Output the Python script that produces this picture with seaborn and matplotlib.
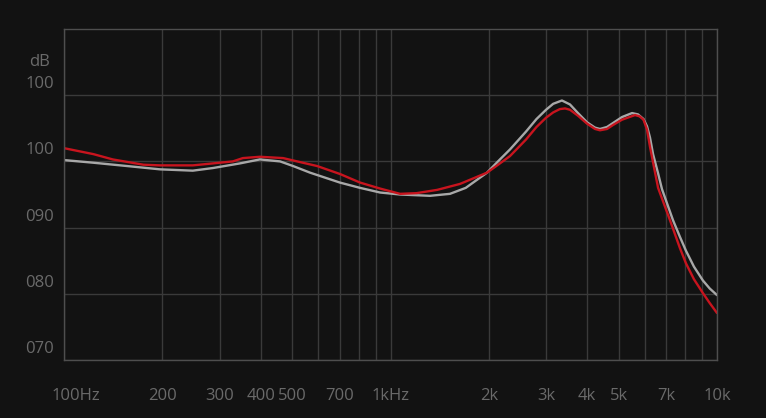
import matplotlib
matplotlib.use("Agg")
import matplotlib.pyplot as plt
from matplotlib.transforms import ScaledTranslation
import seaborn as sns
import pandas as pd

# ---- data ----
gray_freq = [100, 123, 156, 197, 248, 286, 346, 398, 459, 503, 567, 700, 807, 929,
             1070, 1321, 1521, 1700, 1975, 2164, 2322, 2600, 2800, 2995, 3150, 3350, 3546,
             3752, 4000, 4230, 4381, 4604, 4804, 5117, 5493, 5728, 5955, 6105, 6234, 6370,
             6600, 6785, 7335, 7700, 8035, 8500, 9057, 9500, 10000]
gray_db = [100.2, 99.8, 99.3, 98.8, 98.6, 99.0, 99.7, 100.3, 100.0, 99.3, 98.3, 96.8, 96.0, 95.3,
           95.0, 94.8, 95.1, 96.0, 98.3, 100.3, 101.8, 104.5, 106.4, 107.8, 108.7, 109.2, 108.6,
           107.3, 105.9, 105.1, 104.9, 105.2, 105.8, 106.7, 107.3, 107.1, 106.4, 105.3, 103.6, 101.1,
           98.2, 95.8, 91.1, 88.6, 86.5, 84.1, 82.0, 80.8, 79.8]

red_freq = [100, 123, 141, 175, 197, 248, 286, 329, 353, 398, 469, 528, 596, 700, 807, 929,
            1070, 1200, 1390, 1633, 1975, 2164, 2322, 2600, 2800, 2995, 3150, 3300, 3424, 3546,
            3752, 4000, 4230, 4381, 4604, 4804, 5117, 5610, 5800, 5955, 6105, 6234, 6420,
            6600, 7180, 7700, 8035, 8500, 9057, 9500, 10000]
red_db = [102.0, 101.1, 100.3, 99.5, 99.4, 99.4, 99.7, 100.0, 100.5, 100.7, 100.5, 99.9, 99.3, 98.1, 96.8, 95.9,
          95.1, 95.2, 95.7, 96.6, 98.3, 99.7, 100.8, 103.3, 105.2, 106.6, 107.4, 107.9, 108.0, 107.8,
          106.9, 105.7, 104.9, 104.7, 104.9, 105.5, 106.3, 107.0, 106.8, 106.3, 104.8, 102.2, 99.0,
          96.0, 91.1, 86.9, 84.6, 82.2, 80.1, 78.6, 77.1]

x_grid = [100, 200, 300, 400, 500, 600, 700, 800, 900, 1000,
          2000, 3000, 4000, 5000, 6000, 7000, 8000, 9000, 10000]
x_labels = ["100Hz", "200", "300", "400", "500", "", "700", "", "", "1kHz",
            "2k", "3k", "4k", "5k", "", "7k", "", "", "10k"]
y_ticks = [70, 80, 90, 100, 110]
y_labels = ["070", "080", "090", "100", "100"]
y_unit = "dB"

# ---- style ----
BG = "#121212"
GRID = "#3a3a3a"
SPINE = "#4e4e4e"
TEXT = "#6a6a6a"

sns.set_theme(style="dark", rc={
    "figure.facecolor": BG, "axes.facecolor": BG,
    "axes.edgecolor": SPINE, "grid.color": GRID,
})
plt.rcParams["font.family"] = ["Open Sans", "DejaVu Sans"]

fig = plt.figure(figsize=(7.66, 4.18), dpi=100)
ax = fig.add_axes([64 / 766, 1 - 360 / 418, (717 - 64) / 766, (360 - 29) / 418])

df_gray = pd.DataFrame({"freq": gray_freq, "db": gray_db})
df_red = pd.DataFrame({"freq": red_freq, "db": red_db})

sns.lineplot(data=df_gray, x="freq", y="db", ax=ax, color="#a8a8a8", linewidth=1.7, sort=False)
sns.lineplot(data=df_red, x="freq", y="db", ax=ax, color="#c8141e", linewidth=1.7, sort=False)
for ln in ax.lines:
    ln.set_solid_joinstyle("round")
    ln.set_solid_capstyle("round")

ax.set_xscale("log")
ax.set_xlim(100, 10000)
ax.set_ylim(70, 120)
ax.set_xlabel("")
ax.set_ylabel("")

ax.set_xticks(x_grid)
ax.set_xticklabels(x_labels)
ax.xaxis.set_minor_locator(matplotlib.ticker.NullLocator())
ax.set_yticks(y_ticks)
ax.set_yticklabels(y_labels)

ax.grid(True, which="major", color=GRID, linewidth=1.0)
ax.tick_params(axis="both", length=0, colors=TEXT, labelsize=12)
ax.tick_params(axis="x", pad=20)
ax.tick_params(axis="y", pad=7)

for sp in ax.spines.values():
    sp.set_visible(True)
    sp.set_color(SPINE)
    sp.set_linewidth(1.0)

# y labels sit above their grid lines
for lab in ax.get_yticklabels():
    lab.set_transform(lab.get_transform() + ScaledTranslation(0, 13 / 100, fig.dpi_scale_trans))
# first x label shifted right
xl = ax.get_xticklabels()
xl[0].set_transform(xl[0].get_transform() + ScaledTranslation(12 / 100, 0, fig.dpi_scale_trans))

fig.text(29 / 766, 1 - 62 / 418, y_unit, color=TEXT, fontsize=12, ha="left", va="center")

fig.savefig("out.png", dpi=100, facecolor=BG)
